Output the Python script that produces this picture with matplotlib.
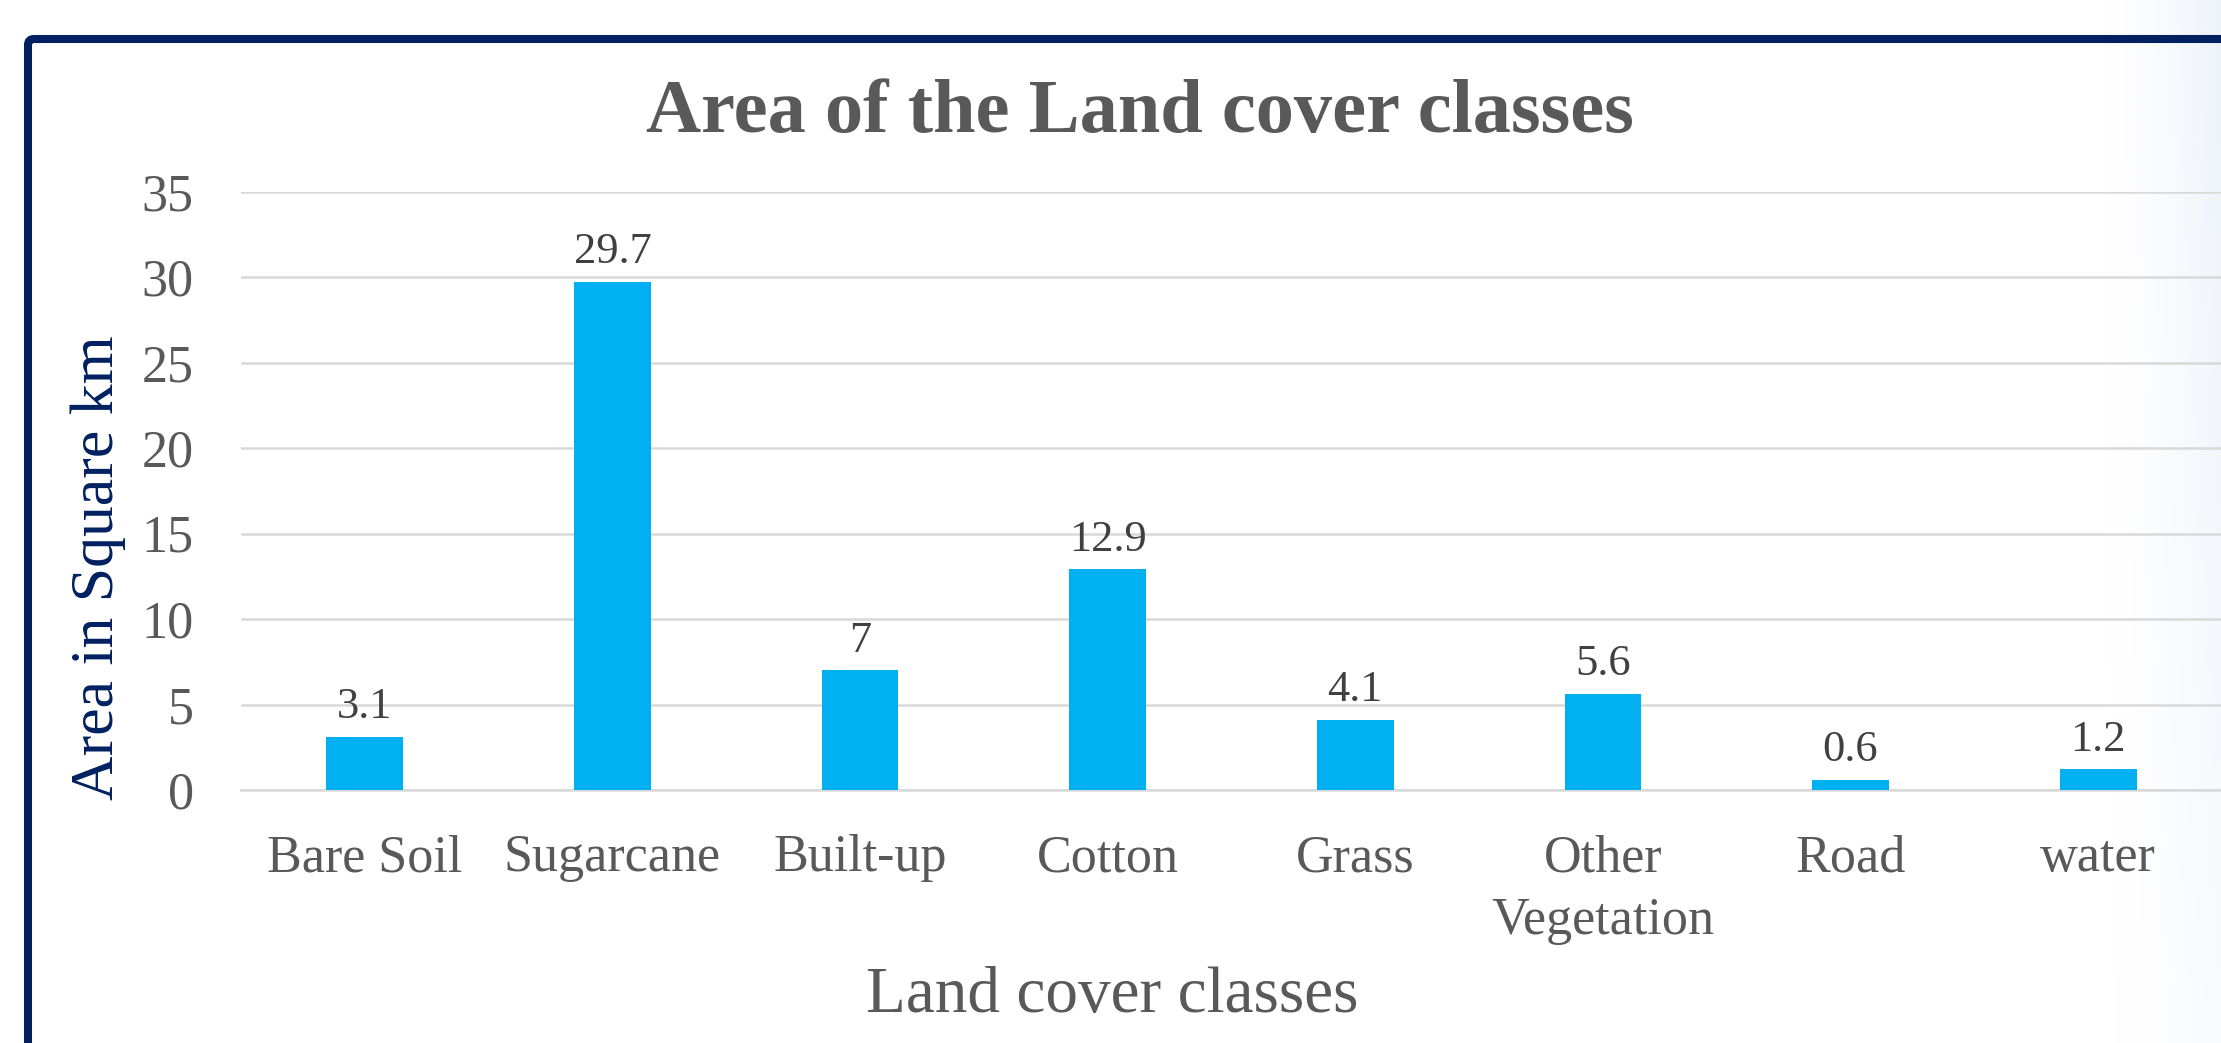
import numpy as np
import matplotlib.pyplot as plt
from matplotlib.patches import FancyBboxPatch

plt.rcParams['font.family'] = ['Liberation Serif', 'DejaVu Serif']

# land cover areas (square km)
classes = ['Bare Soil', 'Sugarcane', 'Built-up', 'Cotton', 'Grass',
           'Other\nVegetation', 'Road', 'water']
area_km2 = [3.1, 29.7, 7, 12.9, 4.1, 5.6, 0.6, 1.2]
y_ticks = [0, 5, 10, 15, 20, 25, 30, 35]

W, H = 2221, 1043
fig = plt.figure(figsize=(W / 100, H / 100), dpi=100)
fig.patch.set_facecolor('white')

# soft bluish fade along the right edge
bg = fig.add_axes([2100 / W, 0, 1 - 2100 / W, 1], zorder=0)
gx = np.linspace(0, 1, 200) ** 1.6
gy = np.linspace(0.35, 0.12, 300)[:, None]
rgba = np.zeros((300, 200, 4))
rgba[..., 0] = 0.80
rgba[..., 1] = 0.85
rgba[..., 2] = 0.94
rgba[..., 3] = gx[None, :] * gy
bg.imshow(rgba, aspect='auto', extent=[0, 1, 0, 1])
bg.set_axis_off()

# navy frame, runs off the right and bottom edges
frame = FancyBboxPatch((28, -60), W + 100, H + 60 - 39,
                       boxstyle='round,pad=0,rounding_size=6',
                       transform=None, facecolor='none',
                       edgecolor='#002060', linewidth=5.8, zorder=5)
fig.add_artist(frame)

ax = fig.add_axes([241 / W, 1 - 790 / H, (2222 - 241) / W, (790 - 191.5) / H], zorder=2)
ax.set_facecolor('none')

x = np.arange(len(classes))
bars = ax.bar(x, area_km2, width=0.31, color='#00B0F0', zorder=3)

for xi, v in zip(x, area_km2):
    ax.annotate(f'{v:g}', (xi, v), xytext=(0, 13.5), textcoords='offset points',
                ha='center', va='baseline', fontsize=32, color='#404040')

ax.set_xlim(-0.5, len(classes) - 0.5)
ax.set_ylim(0, 35)
ax.set_yticks(y_ticks)
ax.yaxis.grid(True, color='#d9d9d9', linewidth=1.8)
ax.set_axisbelow(True)
for s in ['top', 'right', 'left']:
    ax.spines[s].set_visible(False)
ax.spines['bottom'].set_color('#d9d9d9')
ax.spines['bottom'].set_linewidth(1.8)

ax.set_xticks(x)
ax.set_xticklabels(classes, linespacing=1.4)
ax.tick_params(axis='x', length=0, pad=32, labelsize=37.5, labelcolor='#595959')
ax.tick_params(axis='y', length=0, pad=34, labelsize=37.5, labelcolor='#595959')

fig.text(1140 / W, 1 - 132 / H, 'Area of the Land cover classes', ha='center',
         va='baseline', fontsize=55, fontweight='bold', color='#595959')
fig.text(1112 / W, 1 - 1012 / H, 'Land cover classes', ha='center',
         va='baseline', fontsize=47, color='#595959')
fig.text(113 / W, 1 - 568 / H, 'Area in Square km', rotation=90,
         rotation_mode='anchor', ha='center', va='baseline',
         fontsize=44.5, color='#002060')

fig.savefig('out.png', dpi=100)
